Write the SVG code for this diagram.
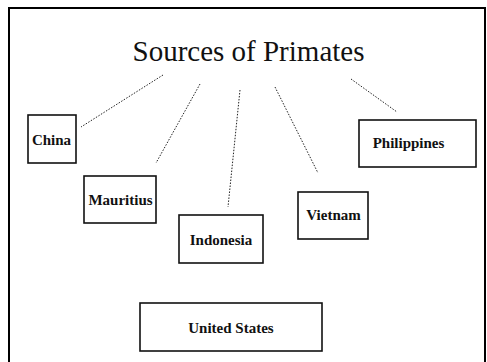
<svg xmlns="http://www.w3.org/2000/svg" width="487" height="362" viewBox="0 0 487 362">
<style>
.frame{fill:none;stroke:#000;stroke-width:2}
.box{fill:#fff;stroke:#111;stroke-width:1.6}
.lbl{font-family:"Liberation Serif","Times New Roman",serif;font-weight:bold;font-size:15px;fill:#111;text-anchor:middle}
.title{font-family:"Liberation Serif","Times New Roman",serif;font-size:29px;fill:#111;text-anchor:middle}
.conn{stroke:#222;stroke-width:1;stroke-dasharray:1.5 1.5;fill:none}
</style>
<rect width="487" height="362" fill="#fff"/>
<rect class="frame" x="9" y="8" width="476" height="360"/>
<text class="title" x="248.5" y="61">Sources of Primates</text>
<g id="connectors">
<line class="conn" x1="163" y1="75" x2="81" y2="127"/>
<line class="conn" x1="200" y1="84" x2="156" y2="163"/>
<line class="conn" x1="240" y1="90" x2="228" y2="207"/>
<line class="conn" x1="275" y1="87" x2="318" y2="173"/>
<line class="conn" x1="351" y1="79" x2="397" y2="112"/>
</g>
<g id="china"><rect class="box" x="28" y="115" width="48" height="48"/><text class="lbl" x="51.5" y="145">China</text></g>
<g id="mauritius"><rect class="box" x="84" y="176" width="72" height="47"/><text class="lbl" x="120.5" y="205">Mauritius</text></g>
<g id="indonesia"><rect class="box" x="179" y="215" width="84" height="48"/><text class="lbl" x="221" y="245">Indonesia</text></g>
<g id="vietnam"><rect class="box" x="298" y="192" width="70" height="47"/><text class="lbl" x="333.5" y="220">Vietnam</text></g>
<g id="philippines"><rect class="box" x="359" y="120" width="117" height="47"/><text class="lbl" x="408.5" y="148">Philippines</text></g>
<g id="united-states"><rect class="box" x="140" y="303" width="182" height="48"/><text class="lbl" x="231" y="333">United States</text></g>
</svg>
